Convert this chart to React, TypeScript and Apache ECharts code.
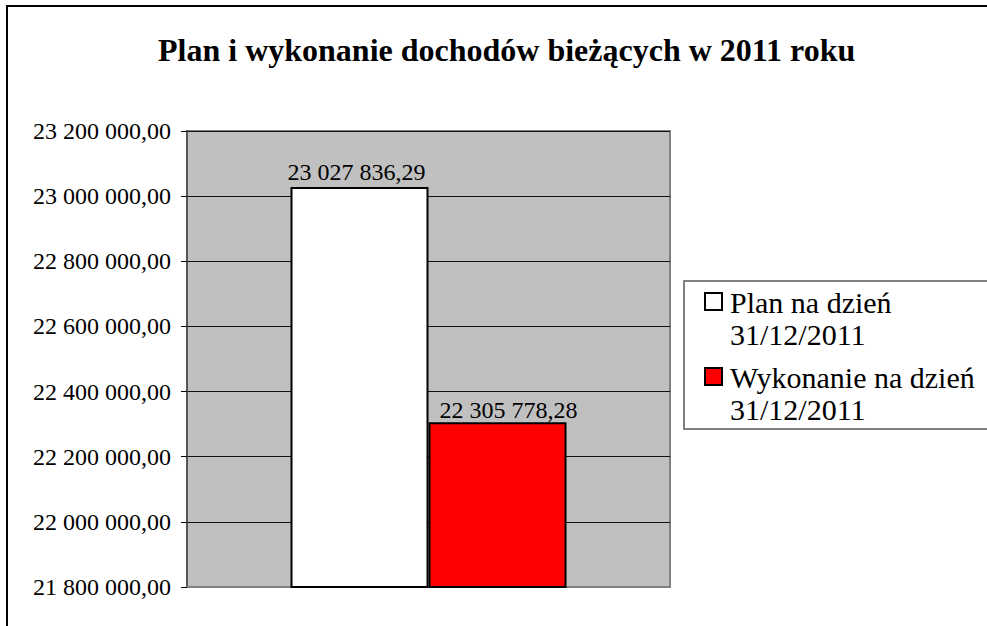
import React, { useEffect, useRef } from "react";
import * as echarts from "echarts";

const titleText = "Plan i wykonanie dochodów bieżących w 2011 roku";
const categories = [""];
const seriesNames = ["Plan na dzień\n31/12/2011", "Wykonanie na dzień\n31/12/2011"];
const planValues = [23027836.29];
const execValues = [22305778.28];
const seriesColors = ["#ffffff", "#ff0000"];
const yMin = 21800000;
const yMax = 23200000;
const yInterval = 200000;

const FONT = "Liberation Serif";

function fmt(v: number): string {
  const neg = v < 0;
  const s = Math.abs(v).toFixed(2);
  const [ip, dp] = s.split(".");
  const withSp = ip.replace(/\B(?=(\d{3})+(?!\d))/g, " ");
  return (neg ? "-" : "") + withSp + "," + dp;
}

export default function App() {
  const ref = useRef<HTMLDivElement>(null);
  useEffect(() => {
    if (!ref.current) return;
    const chart = echarts.init(ref.current, null, { renderer: "svg" });

    const legendItems: any[] = [];
    const legendTop = [302, 377];
    seriesNames.forEach((name, i) => {
      const cy = legendTop[i];
      legendItems.push({
        type: "rect",
        shape: { x: 705, y: cy - 9, width: 17, height: 17 },
        style: { fill: seriesColors[i], stroke: "#000", lineWidth: 2 },
        z: 10,
      });
      name.split("\n").forEach((line, j) => {
        legendItems.push({
          type: "text",
          x: 730,
          y: cy + j * 32,
          style: {
            text: line,
            fontFamily: FONT,
            fontSize: 30,
            fill: "#000",
            verticalAlign: "middle",
            align: "left",
          },
          z: 10,
        });
      });
    });

    const labelOffsets = [[-3, 0], [11, 0]];

    chart.setOption({
      animation: false,
      backgroundColor: "#ffffff",
      textStyle: { fontFamily: FONT },
      title: {
        text: titleText,
        left: 153,
        top: 29,
        textStyle: { fontFamily: FONT, fontSize: 32, fontWeight: "bold", color: "#000" },
      },
      grid: {
        left: 187,
        top: 131,
        right: 317,
        bottom: 39,
        show: true,
        backgroundColor: "#c0c0c0",
        borderColor: "#808080",
        borderWidth: 2,
      },
      xAxis: {
        type: "category",
        data: categories,
        axisLine: { show: true, lineStyle: { color: "#808080", width: 2 } },
        axisTick: { show: false },
        axisLabel: { show: false },
      },
      yAxis: {
        type: "value",
        min: yMin,
        max: yMax,
        interval: yInterval,
        axisLine: { show: true, lineStyle: { color: "#555555", width: 2 } },
        axisTick: { show: true, length: 6, lineStyle: { color: "#000", width: 1 } },
        axisLabel: {
          formatter: (v: number) => fmt(v),
          fontFamily: FONT,
          fontSize: 24,
          color: "#000",
          margin: 16,
        },
        splitLine: { show: true, lineStyle: { color: "#111111", width: 1 } },
      },
      series: [planValues, execValues].map((vals, i) => ({
        type: "bar",
        name: seriesNames[i],
        data: vals,
        barWidth: 138,
        barGap: "0%",
        itemStyle: { color: seriesColors[i], borderColor: "#000", borderWidth: 2 },
        label: {
          show: true,
          position: "top",
          distance: i === 0 ? 3 : 0,
          offset: labelOffsets[i],
          formatter: (p: any) => fmt(p.value),
          fontFamily: FONT,
          fontSize: 24,
          color: "#000",
        },
      })),
      graphic: [
        {
          type: "rect",
          shape: { x: 7, y: 6, width: 1000, height: 640 },
          style: { fill: "none", stroke: "#000", lineWidth: 2 },
          silent: true,
          z: -1,
        },
        {
          type: "rect",
          shape: { x: 684, y: 281, width: 320, height: 148 },
          style: { fill: "#fff", stroke: "#808080", lineWidth: 2 },
          z: 9,
        },
        ...legendItems,
      ],
    });
    return () => chart.dispose();
  }, []);
  return (
    <div
      ref={ref}
      style={{ position: "fixed", left: 0, top: 0, width: 987, height: 626 }}
    />
  );
}
